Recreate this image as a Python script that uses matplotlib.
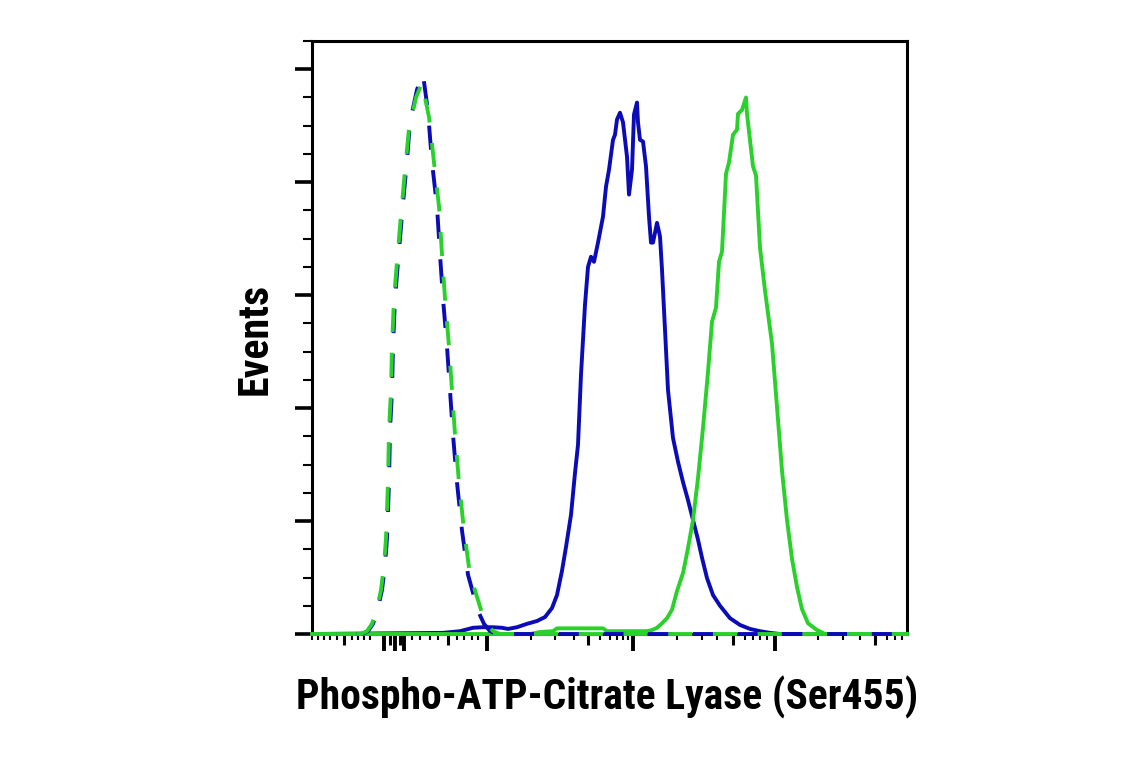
import matplotlib
matplotlib.use('Agg')
import matplotlib.pyplot as plt
from matplotlib import font_manager
from matplotlib.ticker import FixedLocator, NullFormatter

# x in display channels (biexponential axis, 0-595), y in % of max events
chan_max = 595

blue_x = [0, 131, 148, 161, 171, 181, 190, 196, 205, 215, 225, 233, 240, 245, 250, 254,
          259, 263, 266, 269, 273, 276, 279, 282, 286, 291, 294, 297, 301, 303, 305, 308,
          311, 315, 317, 320, 322, 325, 326, 328, 331, 334, 337, 339, 341, 345, 348, 350,
          353, 356, 361, 366, 371, 376, 381, 386, 390, 395, 401, 408, 418, 428, 438, 448,
          458, 468, 595]
blue_y = [0, 0.2, 0.5, 1.1, 1.2, 1.2, 1.1, 0.9, 1.2, 1.8, 2.3, 3.0, 4.6, 6.9, 11.2, 15.4,
          21.1, 28.5, 33.5, 45.9, 58.3, 65.0, 66.8, 65.9, 69.3, 73.9, 79.2, 82.2, 87.5, 88.4,
          91.1, 92.3, 90.6, 84.5, 77.8, 82.2, 92.0, 94.1, 90.6, 87.5, 87.2, 82.8, 73.9, 69.3,
          69.3, 72.8, 70.4, 64.5, 53.9, 43.2, 34.7, 30.5, 26.9, 23.7, 20.2, 16.7, 13.5, 9.9,
          6.9, 5.0, 2.8, 1.6, 0.9, 0.5, 0.2, 0, 0]

green_x = [0, 218, 228, 241, 245, 291, 295, 335, 340, 345, 350, 355, 360, 365, 371, 376,
           381, 386, 391, 396, 400, 404, 407, 410, 414, 417, 421, 425, 426, 430, 434, 435,
           441, 444, 448, 453, 460, 465, 470, 475, 480, 485, 490, 496, 505, 513, 595]
green_y = [0, 0, 0.35, 0.5, 1.0, 1.0, 0.5, 0.5, 0.7, 1.1, 1.9, 2.8, 4.3, 7.6, 10.8, 15.2,
           20.2, 27.6, 36.5, 46.4, 55.3, 57.8, 65.9, 67.7, 81.5, 83.5, 88.4, 89.3, 92.1, 92.8,
           95.0, 92.1, 82.8, 81.2, 68.4, 60.8, 51.4, 40.2, 28.9, 20.2, 13.3, 8.3, 4.4, 1.9,
           0.7, 0, 0]

blue_iso_x = [0, 50, 56, 61, 66, 70, 73, 75, 77, 78, 80, 81, 83, 86, 90, 95, 98, 105, 111,
              116, 120, 125, 128, 131, 135, 138, 141, 145, 150, 156, 163, 167, 172, 178, 185, 595]
blue_iso_y = [0, 0, 0.5, 1.8, 4.6, 7.8, 12.2, 17.0, 26.8, 36.1, 43.1, 50.9, 59.4, 65.9, 74.2,
              84.0, 90.6, 96.4, 99.1, 92.5, 83.5, 75.7, 67.2, 59.4, 50.9, 43.1, 35.3, 26.8,
              18.3, 10.5, 6.0, 3.7, 1.8, 0.5, 0, 0]

green_iso_x = [0, 49, 55, 60, 65, 69, 72, 74, 76, 77, 79, 80, 82, 85, 89, 94, 97, 104, 110,
               117, 122, 127, 130, 133, 137, 140, 143, 147, 152, 158, 166, 170, 175, 181, 188, 595]
green_iso_y = [0, 0, 0.5, 1.8, 4.6, 7.8, 12.2, 17.0, 26.8, 36.1, 43.1, 50.9, 59.4, 65.9, 74.2,
               84.0, 89.5, 95.0, 97.6, 91.5, 83.5, 75.7, 67.2, 59.4, 50.9, 43.1, 35.3, 26.8,
               18.3, 10.5, 6.0, 3.7, 1.8, 0.5, 0, 0]

# axis ticks (channels)
ticks_long = [72, 83, 92, 175, 321, 463]
ticks_mid = [32, 78, 88, 136, 276, 421, 563]
ticks_short = [0, 6, 12, 18, 25, 40, 46, 52, 58, 100, 108, 118, 126, 145, 152, 160, 166,
               219, 243, 262, 288, 298, 305, 311, 316, 365, 390, 405, 433, 441, 448, 455,
               506, 531, 548, 575, 583, 590]

xlabel = 'Phospho-ATP-Citrate Lyase (Ser455)'
ylabel = 'Events'

blue = '#0b0bb8'
green = '#2bd12b'

names = {f.name for f in font_manager.fontManager.ttflist}
fam = 'DejaVu Sans'
for cand in ['Liberation Sans Narrow', 'Roboto Condensed', 'Open Sans Condensed', 'Roboto']:
    if cand in names:
        fam = cand
        break

W, H = 1141, 768
fig = plt.figure(figsize=(W / 100, H / 100), dpi=100)
ax = fig.add_axes([312 / W, 1 - 634 / H, 595 / W, 593 / H])

lw = 2.8
dash = (6.2, 5.3)
ax.plot(blue_x, blue_y, color=blue, lw=lw, zorder=3, clip_on=False)
ax.plot(green_x, green_y, color=green, lw=lw, zorder=3, clip_on=False)
ax.plot(blue_iso_x, blue_iso_y, color=blue, lw=lw, dashes=dash, zorder=4, clip_on=False)
ax.plot(green_iso_x, green_iso_y, color=green, lw=lw, dashes=dash, zorder=4, clip_on=False)

ax.set_xlim(0, chan_max)
ax.set_ylim(0, 105)

for s in ax.spines.values():
    s.set_linewidth(2.2)
    s.set_color('black')

ax.xaxis.set_major_locator(FixedLocator(ticks_long))
ax.xaxis.set_minor_locator(FixedLocator(ticks_short))
ax.yaxis.set_major_locator(FixedLocator([0, 20, 40, 60, 80, 100]))
ax.yaxis.set_minor_locator(FixedLocator([5, 10, 15, 25, 30, 35, 45, 50, 55, 65, 70, 75,
                                         85, 90, 95, 105]))
ax.xaxis.set_major_formatter(NullFormatter())
ax.yaxis.set_major_formatter(NullFormatter())
ax.tick_params(axis='x', which='major', direction='out', length=12, width=2.8)
ax.tick_params(axis='x', which='minor', direction='out', length=4.5, width=1.5)
ax.tick_params(axis='y', which='major', direction='out', length=12.5, width=2.6)
ax.tick_params(axis='y', which='minor', direction='out', length=6.5, width=1.5)

sec = ax.secondary_xaxis('bottom')
sec.set_xticks(ticks_mid)
sec.set_xticklabels([])
sec.tick_params(axis='x', direction='out', length=8, width=2.2)
sec.spines['bottom'].set_visible(False)

tx = fig.text(607 / W, 1 - 697 / H, xlabel, ha='center', va='center',
              fontsize=28, fontweight='bold', family=fam)
ty = fig.text(255 / W, 1 - 339 / H, ylabel, ha='center', va='center', rotation=90,
              fontsize=28, fontweight='bold', family=fam)

# fit label sizes to the reference widths
fig.canvas.draw()
r = fig.canvas.get_renderer()
bx = tx.get_window_extent(r)
tx.set_fontsize(28 * 621 / bx.width)
by = ty.get_window_extent(r)
ty.set_fontsize(28 * 112 / by.height)

fig.savefig('out.png', dpi=100)
